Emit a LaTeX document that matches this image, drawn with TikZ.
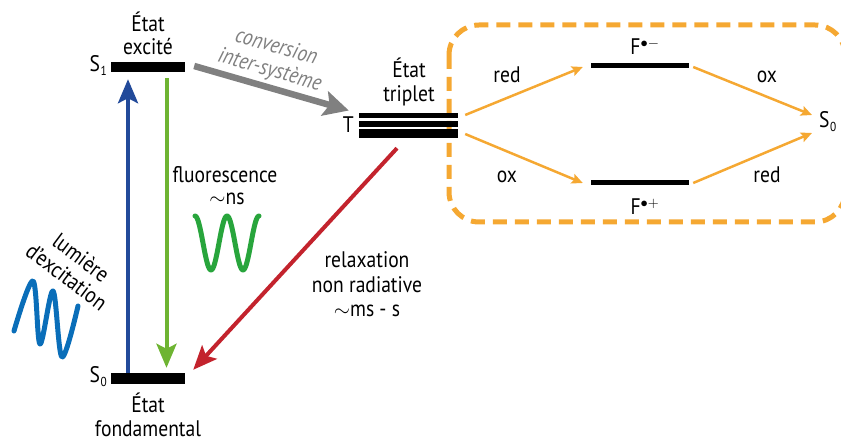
\documentclass[tikz,border=0pt]{standalone}
\usepackage{fontspec}
\setmainfont{PT Sans}[FakeStretch=0.87]
\usetikzlibrary{arrows.meta}
\definecolor{cblue}{RGB}{34,74,154}
\definecolor{cgreen}{RGB}{110,180,50}
\definecolor{cwgreen}{RGB}{40,165,60}
\definecolor{cwblue}{RGB}{10,110,185}
\definecolor{cred}{RGB}{195,35,45}
\definecolor{cgray}{RGB}{128,128,128}
\definecolor{corange}{RGB}{245,168,50}
\newcommand{\mysub}[1]{\kern0.5pt\raisebox{-4pt}{\fontsize{13}{13}\selectfont #1}}
\tikzset{
  lbl/.style={font=\fontsize{22.5}{25}\selectfont, inner sep=0pt, align=center},
  level/.style={fill=black, inner sep=0pt, minimum width=74pt},
  bigtip/.style={-{Stealth[length=24pt,width=20pt,inset=5pt]}},
  smalltip/.style={-{Stealth[length=11pt,width=10pt,inset=2pt]}},
  bluearr/.style={bigtip, draw=cblue, line width=4pt},
  greenarr/.style={bigtip, draw=cgreen, line width=4pt},
  redarr/.style={bigtip, draw=cred, line width=4pt},
  grayarr/.style={-{Stealth[length=25pt,width=25pt,inset=5pt]}, draw=cgray, line width=6.5pt},
  orarr/.style={smalltip, draw=corange, line width=2.5pt},
  wave/.style={line width=5pt, line cap=round, line join=round},
}
\begin{document}
\begin{tikzpicture}[x=1pt,y=-1pt]
\useasboundingbox (0,0) rectangle (841,443);

% dashed box
\draw[corange, line width=5pt, dash pattern=on 14pt off 8pt, rounded corners=30pt] (449,25) rectangle (845,222);

% levels
\node[level, minimum height=10pt] (s1) at (148,67) {};
\node[level, minimum height=11pt] (s0) at (148,378.5) {};
\node[level, minimum width=99pt, minimum height=5pt] (t1) at (408.5,115.5) {};
\node[level, minimum width=99pt, minimum height=6pt] (t2) at (408.5,124) {};
\node[level, minimum width=99pt, minimum height=9pt] (t3) at (408.5,133.5) {};
\node[level, minimum width=98pt, minimum height=5pt] (fm) at (640,65.5) {};
\node[level, minimum width=98pt, minimum height=5pt] (fp) at (640,183) {};

% level labels
\node[lbl, anchor=base east] (s1l) at (107,72) {S\mysub{1}};
\node[lbl, anchor=base east] (s0l) at (107,383) {S\mysub{0}};
\node[lbl, anchor=base east] (tl) at (354,133) {T};
\node[lbl, anchor=base west] (s0r) at (819,128) {S\mysub{0}};
\node[lbl, anchor=base] (fml) at (645,55) {F$^{\bullet-}$};
\node[lbl, anchor=base] (fpl) at (645,215) {F$^{\bullet+}$};

\node[lbl, anchor=base] (ex1) at (148,32) {État};
\node[lbl, anchor=base] (ex2) at (148,55) {excité};
\node[lbl, anchor=base] (tr1) at (409,78) {État};
\node[lbl, anchor=base] (tr2) at (409,102) {triplet};
\node[lbl, anchor=base] (fo1) at (148,413) {État};
\node[lbl, anchor=base] (fo2) at (148,437) {fondamental};

\node[lbl, anchor=base] (fl1) at (225,183) {fluorescence};
\node[lbl, anchor=base] (fl2) at (227,205) {$\sim$ns};
\node[lbl, anchor=base] (rx1) at (367,268) {relaxation};
\node[lbl, anchor=base] (rx2) at (367,293) {non radiative};
\node[lbl, anchor=base] (rx3) at (367,317) {$\sim$ms - s};

\node[lbl, anchor=base] (rd1) at (507,83) {red};
\node[lbl, anchor=base] (ox1) at (507,183) {ox};
\node[lbl, anchor=base] (ox2) at (767,83) {ox};
\node[lbl, anchor=base] (rd2) at (767,183) {red};

\node[lbl, text=cgray, font=\fontsize{22.5}{24}\selectfont\itshape, rotate=-16] (isc) at (273,59) {conversion\\inter-système};
\node[lbl, font=\fontsize{22.5}{24}\selectfont, rotate=-37] (lum) at (74,267) {lumière\\d'excitation};

% arrows
\draw[bluearr] ([xshift=-20pt]s0.north) -- ([xshift=-20pt,yshift=-7pt]s1.south);
\draw[greenarr] ([xshift=18.5pt,yshift=-6pt]s1.south) -- ([xshift=18.5pt,yshift=5pt]s0.north);
\draw[grayarr] ([xshift=9pt,yshift=1pt]s1.east) -- ([xshift=-10pt,yshift=5pt]t1.west);
\draw[redarr] ([xshift=-11.5pt,yshift=-10pt]t3.south) -- ([xshift=8pt,yshift=3pt]s0.north east);

\draw[orarr] ([xshift=7pt,yshift=9pt]t2.east) -- ([xshift=-8pt,yshift=-1.5pt]fm.west);
\draw[orarr] ([xshift=7pt,yshift=-10pt]t2.east) -- ([xshift=-8pt]fp.west);
\draw[orarr] ([xshift=4pt,yshift=-1.5pt]fm.east) -- ([xshift=-7pt,yshift=13pt]s0r.base west);
\draw[orarr] ([xshift=4pt]fp.east) -- ([xshift=-7pt,yshift=-5pt]s0r.base west);

% waves
\draw[wave, cwgreen] plot[domain=0:720, samples=120, variable=\t] ({195+16*\t/180}, {243-27*cos(\t)});
\draw[wave, cwblue] plot[smooth, tension=0.55] coordinates {(14,331) (33,281) (40,344) (53,291) (62,357) (78,306)};
\end{tikzpicture}
\end{document}
